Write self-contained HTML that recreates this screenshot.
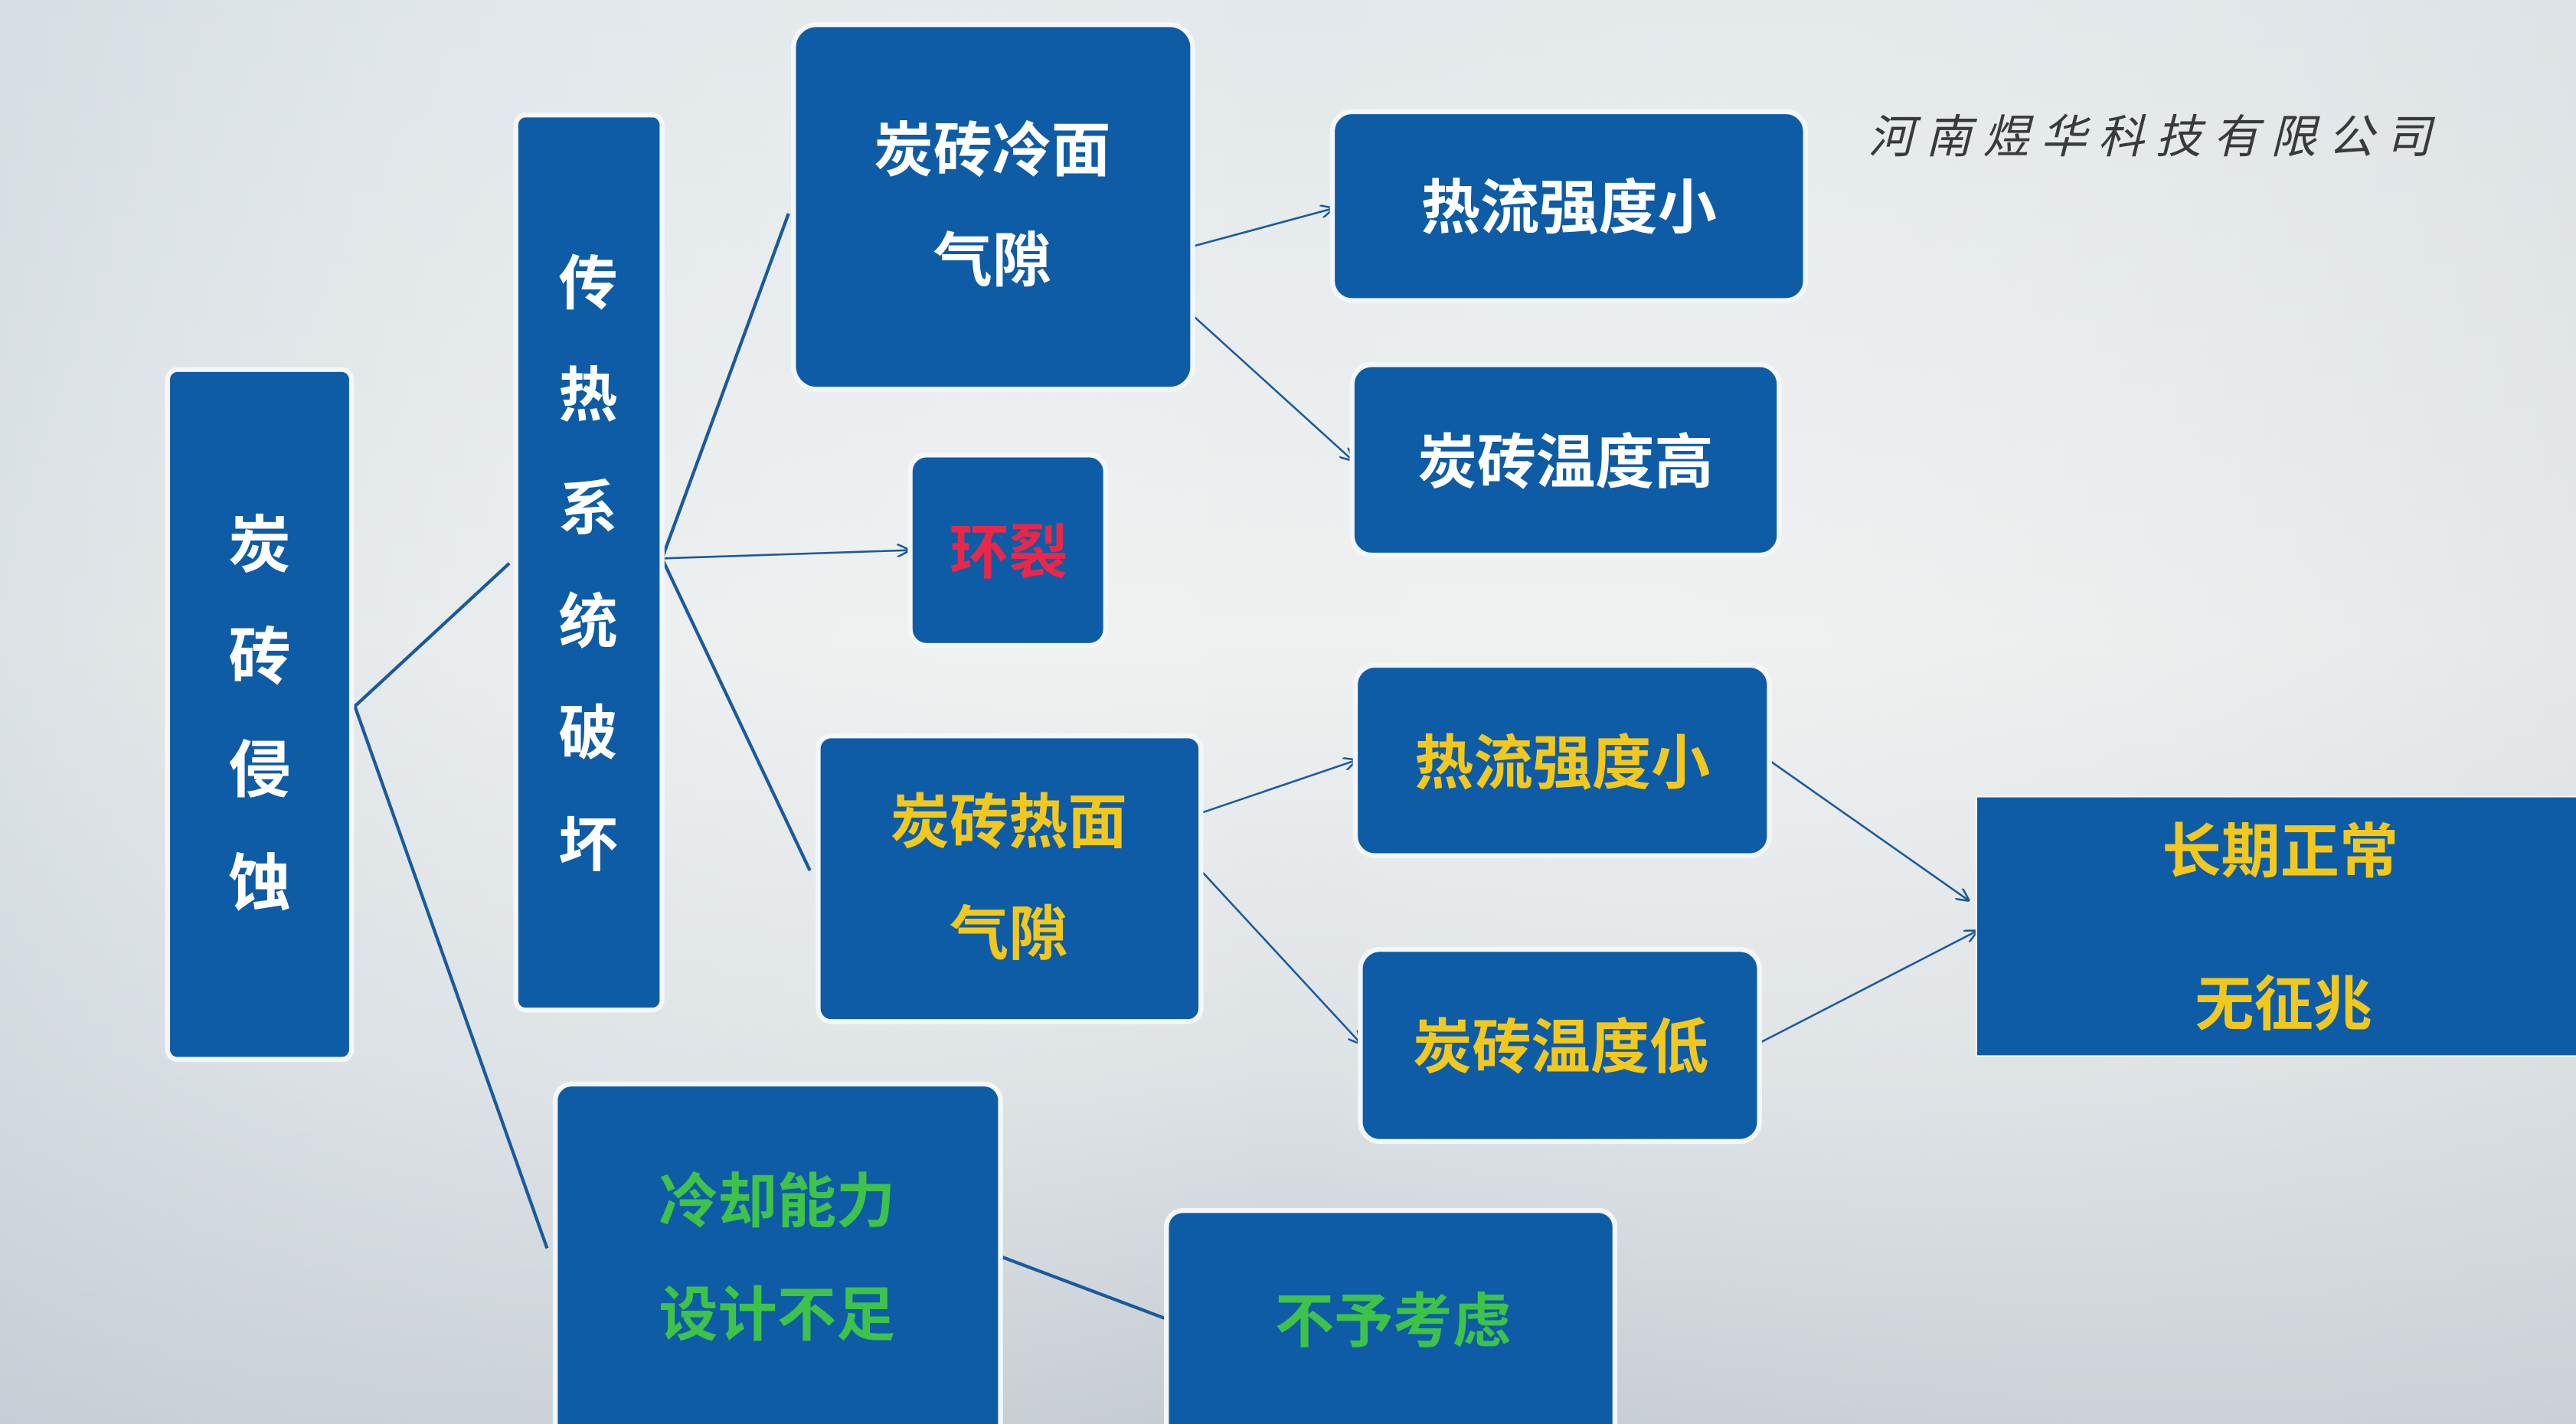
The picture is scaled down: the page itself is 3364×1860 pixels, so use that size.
<!DOCTYPE html>
<html><head><meta charset="utf-8"><style>
html,body{margin:0;padding:0;}
body{width:3364px;height:1860px;overflow:hidden;background:#e8ecee;}
svg{display:block}
text{font-family:"Liberation Sans","Noto Sans CJK SC",sans-serif;font-weight:bold;}
</style></head><body>
<svg width="3364" height="1860" viewBox="0 0 1568 867" preserveAspectRatio="none" xmlns="http://www.w3.org/2000/svg">
<defs>
<marker id="a" markerWidth="8" markerHeight="8" refX="7" refY="4" orient="auto" markerUnits="userSpaceOnUse"><path d="M0,0 L8,4 L0,8" fill="none" stroke="#1a5a9a" stroke-width="1.2"/></marker>
<linearGradient id="bg" x1="0" y1="0" x2="0" y2="1"><stop offset="0" stop-color="#e2e8eb"/><stop offset="0.45" stop-color="#eff1f0"/><stop offset="0.75" stop-color="#dde2e5"/><stop offset="1" stop-color="#c3cad0"/></linearGradient>
<linearGradient id="bg2" x1="0" y1="0" x2="1" y2="0"><stop offset="0" stop-color="#c9d3da" stop-opacity="0.5"/><stop offset="0.5" stop-color="#ffffff" stop-opacity="0"/><stop offset="1" stop-color="#d5dade" stop-opacity="0.4"/></linearGradient>
</defs>
<rect width="1568" height="867" fill="url(#bg)"/>
<rect width="1568" height="867" fill="url(#bg2)"/>
<g stroke="#1a5a9a" stroke-width="2" fill="none">
<path d="M216,430 L310,343"/><path d="M216,430 L333,760"/>
<path d="M403,340 L480,130"/><path d="M403,340 L493,530"/>
<path d="M609,765 L710,803"/>
</g>
<g stroke="#1a5a9a" stroke-width="1.2" fill="none" marker-end="url(#a)">
<path d="M403,340 L553,335"/>
<path d="M726,150 L811,127"/><path d="M726,192 L823,280"/>
<path d="M731,495 L825,463"/><path d="M731,530 L828,635"/>
<path d="M1077,463 L1198,548"/><path d="M1071,635 L1203,567"/>
</g>
<g fill="#0e5ca6" stroke="#f4f6f8" stroke-width="3">
<rect x="102" y="225" width="112" height="420" rx="6"/>
<rect x="314" y="70" width="89" height="545" rx="6"/>
<rect x="483" y="15" width="243" height="222" rx="14"/>
<rect x="554" y="277" width="119" height="116" rx="10"/>
<rect x="498" y="448" width="233" height="174" rx="8"/>
<rect x="338" y="660" width="271" height="220" rx="10"/>
<rect x="811" y="68" width="288" height="115" rx="12"/>
<rect x="823" y="222" width="260" height="116" rx="12"/>
<rect x="825" y="405" width="252" height="116" rx="12"/>
<rect x="828" y="578" width="243" height="117" rx="12"/>
<rect x="710" y="737" width="273" height="140" rx="10"/>
<rect x="1203" y="485" width="370" height="158" rx="0" stroke-width="1"/>
</g>
<g fill="#fff" font-size="38" text-anchor="middle">
<text x="158" y="345">炭</text><text x="158" y="413">砖</text><text x="158" y="482">侵</text><text x="158" y="551">蚀</text>
</g>
<g fill="#fff" font-size="36" text-anchor="middle">
<text x="358" y="185">传</text><text x="358" y="253">热</text><text x="358" y="322">系</text><text x="358" y="391">统</text><text x="358" y="459">破</text><text x="358" y="527">坏</text>
<text x="604" y="104">炭砖冷面</text><text x="604" y="171">气隙</text>
<text x="955" y="139">热流强度小</text>
<text x="953" y="294">炭砖温度高</text>
</g>
<text x="614" y="349" font-size="36" fill="#e8284a" text-anchor="middle">环裂</text>
<g fill="#f2c81e" font-size="36" text-anchor="middle">
<text x="614" y="513">炭砖热面</text><text x="614" y="581">气隙</text>
<text x="951" y="477">热流强度小</text>
<text x="950" y="650">炭砖温度低</text>
<text x="1388" y="531">长期正常</text><text x="1390" y="624">无征兆</text>
</g>
<g fill="#3ec24a" font-size="36" text-anchor="middle">
<text x="473" y="744">冷却能力</text><text x="473" y="813">设计不足</text>
<text x="848" y="817">不予考虑</text>
</g>
<text x="1312" y="93" font-size="28" fill="#3a3a3a" text-anchor="middle" font-style="italic" letter-spacing="7" style="font-weight:normal" font-family="Liberation Serif, Noto Serif CJK SC, serif">河南煜华科技有限公司</text>
</svg>
</body></html>
